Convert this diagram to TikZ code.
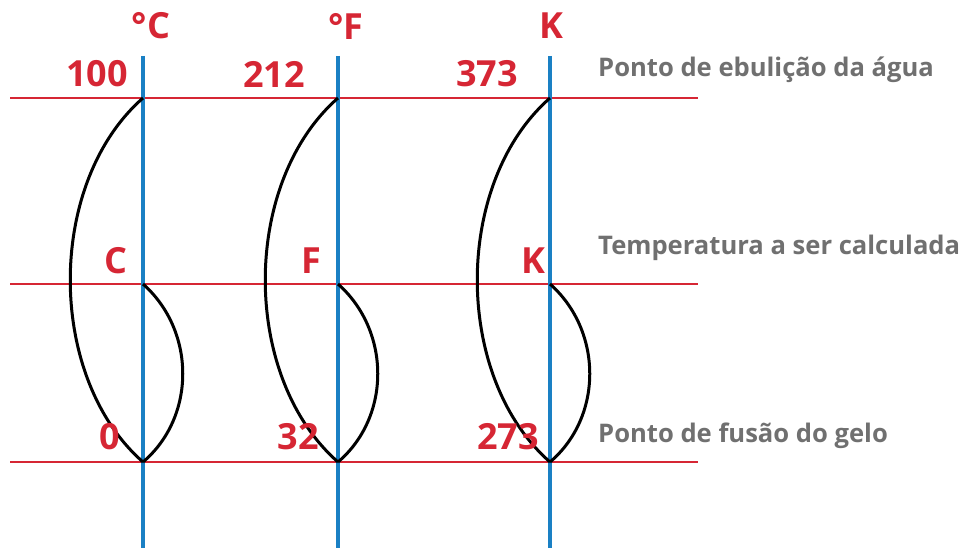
\documentclass[tikz,border=0pt]{standalone}
\usepackage{fontspec}
\setmainfont{Open Sans}
\definecolor{tred}{RGB}{214,38,52}
\definecolor{tblue}{RGB}{26,128,196}
\definecolor{tgray}{RGB}{112,112,112}
\begin{document}
\begin{tikzpicture}[x=1pt,y=-1pt,
  hline/.style={draw=tred,line width=1.8pt},
  vline/.style={draw=tblue,line width=4.5pt},
  arc/.style={draw=black,line width=3pt},
  lab/.style={text=tred,font=\fontsize{36}{36}\selectfont\bfseries,inner sep=0pt},
  desc/.style={text=tgray,font=\fontsize{25.6}{25.6}\selectfont\bfseries,inner sep=0pt,anchor=west}]
\useasboundingbox[fill=white] (0,0) rectangle (960,548);
% horizontal red lines
\coordinate (h1l) at (10,98);  \coordinate (h1r) at (698,98);
\coordinate (h2l) at (10,284); \coordinate (h2r) at (698,284);
\coordinate (h3l) at (10,462); \coordinate (h3r) at (698,462);
\draw[hline] (h1l) -- (h1r);
\draw[hline] (h2l) -- (h2r);
\draw[hline] (h3l) -- (h3r);
% columns
\foreach \n/\x in {c/143,f/338,k/550}{
  \coordinate (\n top) at (\x,56);
  \coordinate (\n bot) at (\x,548);
  \coordinate (\n a) at (\x,98);
  \coordinate (\n b) at (\x,284);
  \coordinate (\n c) at (\x,462);
  \draw[vline] (\n top) -- (\n bot);
  \draw[arc] (\n a) .. controls +(-97,85) and +(-97,-85) .. (\n c);
  \draw[arc] (\n b) .. controls +(53,47) and +(53,-45) .. (\n c);
}
% labels
\node[lab] (uc) at (151,26) {°C};
\node[lab] (uf) at (346,26) {°F};
\node[lab] (uk) at (551,26) {K};
\node[lab] (c100) at (97,74) {100};
\node[lab] (f212) at (274,74) {212};
\node[lab] (k373) at (487,74) {373};
\node[lab] (cC) at (116,261) {C};
\node[lab] (fF) at (311,261) {F};
\node[lab] (kK) at (533,261) {K};
\node[lab] (c0) at (110,437) {0};
\node[lab] (f32) at (298,437) {32};
\node[lab] (k273) at (508,437) {273};
\node[desc] (d1) at (598,70) {Ponto de ebulição da água};
\node[desc] (d2) at (598,248) {Temperatura a ser calculada};
\node[desc] (d3) at (598,436) {Ponto de fusão do gelo};
\end{tikzpicture}
\end{document}
